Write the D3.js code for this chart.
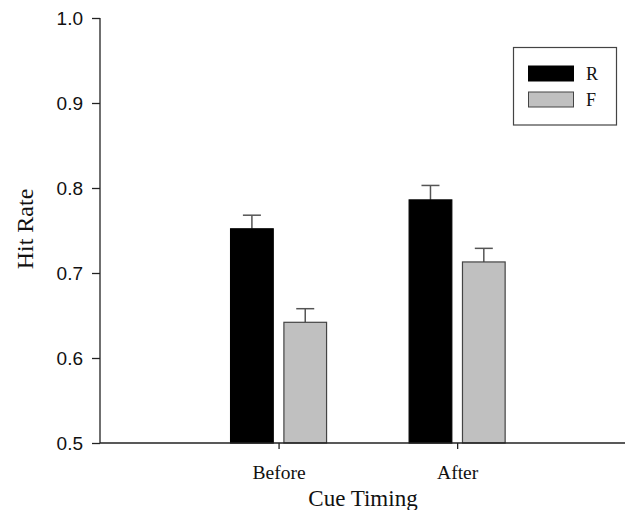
<!DOCTYPE html>
<html>
<head>
<meta charset="utf-8">
<script src="https://cdn.jsdelivr.net/npm/d3@7"></script>
<style>
  html, body { margin: 0; padding: 0; background: #fff; }
  svg { display: block; }
</style>
</head>
<body>
<script>
const categories = ["Before", "After"];
const series = ["R", "F"];
const valuesR = [0.752, 0.786];
const valuesF = [0.642, 0.713];
const errorsR = [0.016, 0.017];
const errorsF = [0.016, 0.016];
const yTicks = [0.5, 0.6, 0.7, 0.8, 0.9, 1.0];

const W = 627, H = 510;
const svg = d3.select("body").append("svg").attr("width", W).attr("height", H);

const x = d3.scaleLinear().domain([0, 2.94]).range([100, 625]);
const y = d3.scaleLinear().domain([0.5, 1.0]).range([443, 18]);
const sub = d3.scaleBand().domain(series).range([-48, 48]).paddingInner(0.2);

const fills = { R: "#000000", F: "#c0c0c0" };
const strokes = { R: "#000000", F: "#444444" };

const data = [];
categories.forEach((c, i) => {
  data.push({ cat: c, i: i + 1, s: "R", v: valuesR[i], e: errorsR[i] });
  data.push({ cat: c, i: i + 1, s: "F", v: valuesF[i], e: errorsF[i] });
});

// error bars
const eg = svg.append("g").attr("stroke", "#555").attr("stroke-width", 1.5);
data.forEach(d => {
  const cx = x(d.i) + sub(d.s) + sub.bandwidth() / 2;
  eg.append("line").attr("x1", cx).attr("x2", cx).attr("y1", y(d.v)).attr("y2", y(d.v + d.e));
  eg.append("line").attr("x1", cx - 9).attr("x2", cx + 9).attr("y1", y(d.v + d.e)).attr("y2", y(d.v + d.e));
});

// bars
svg.append("g").selectAll("rect").data(data).join("rect")
  .attr("x", d => x(d.i) + sub(d.s))
  .attr("width", sub.bandwidth())
  .attr("y", d => y(d.v))
  .attr("height", d => y(0.5) - y(d.v))
  .attr("fill", d => fills[d.s])
  .attr("stroke", d => strokes[d.s])
  .attr("stroke-width", 1.2);

// y axis
const yAxis = d3.axisLeft(y).tickValues(yTicks).tickFormat(d3.format(".1f")).tickSize(8).tickPadding(9);
const ga = svg.append("g").attr("transform", "translate(100,0)").call(yAxis);
ga.select(".domain").attr("stroke", "#222").attr("stroke-width", 1.3).attr("d", "M0,18V443");
ga.selectAll(".tick line").attr("stroke", "#222").attr("stroke-width", 1.3);
ga.selectAll(".tick text").attr("font-family", "'Liberation Sans', Arial, sans-serif").attr("font-size", 19).attr("fill", "#111");

// x axis
const xAxis = d3.axisBottom(x).tickValues([1, 2]).tickFormat((d, i) => categories[i]).tickSize(6).tickPadding(16);
const gx = svg.append("g").attr("transform", "translate(0,443)").call(xAxis);
gx.select(".domain").attr("stroke", "#222").attr("stroke-width", 1.3).attr("d", "M100,0H625");
gx.selectAll(".tick line").attr("stroke", "#222").attr("stroke-width", 1.3);
gx.selectAll(".tick text").attr("font-family", "'Liberation Serif', 'Times New Roman', serif").attr("font-size", 19.5).attr("fill", "#111");

// axis titles
svg.append("text").attr("x", 363).attr("y", 506).attr("text-anchor", "middle")
  .attr("font-family", "'Liberation Serif', 'Times New Roman', serif").attr("font-size", 23).attr("fill", "#111")
  .text("Cue Timing");
svg.append("text").attr("transform", "translate(33,229) rotate(-90)").attr("text-anchor", "middle")
  .attr("font-family", "'Liberation Serif', 'Times New Roman', serif").attr("font-size", 24).attr("fill", "#111")
  .text("Hit Rate");

// legend
const lg = svg.append("g");
lg.append("rect").attr("x", 513.5).attr("y", 47.5).attr("width", 103).attr("height", 77.5)
  .attr("fill", "#fff").attr("stroke", "#444").attr("stroke-width", 1.2);
series.forEach((s, i) => {
  lg.append("rect").attr("x", 528.5).attr("y", 66 + i * 26).attr("width", 45).attr("height", 15)
    .attr("fill", fills[s]).attr("stroke", strokes[s]).attr("stroke-width", 1);
  lg.append("text").attr("x", 586).attr("y", 79.5 + i * 26)
    .attr("font-family", "'Liberation Serif', 'Times New Roman', serif").attr("font-size", 18).attr("fill", "#111")
    .text(s);
});
</script>
</body>
</html>
